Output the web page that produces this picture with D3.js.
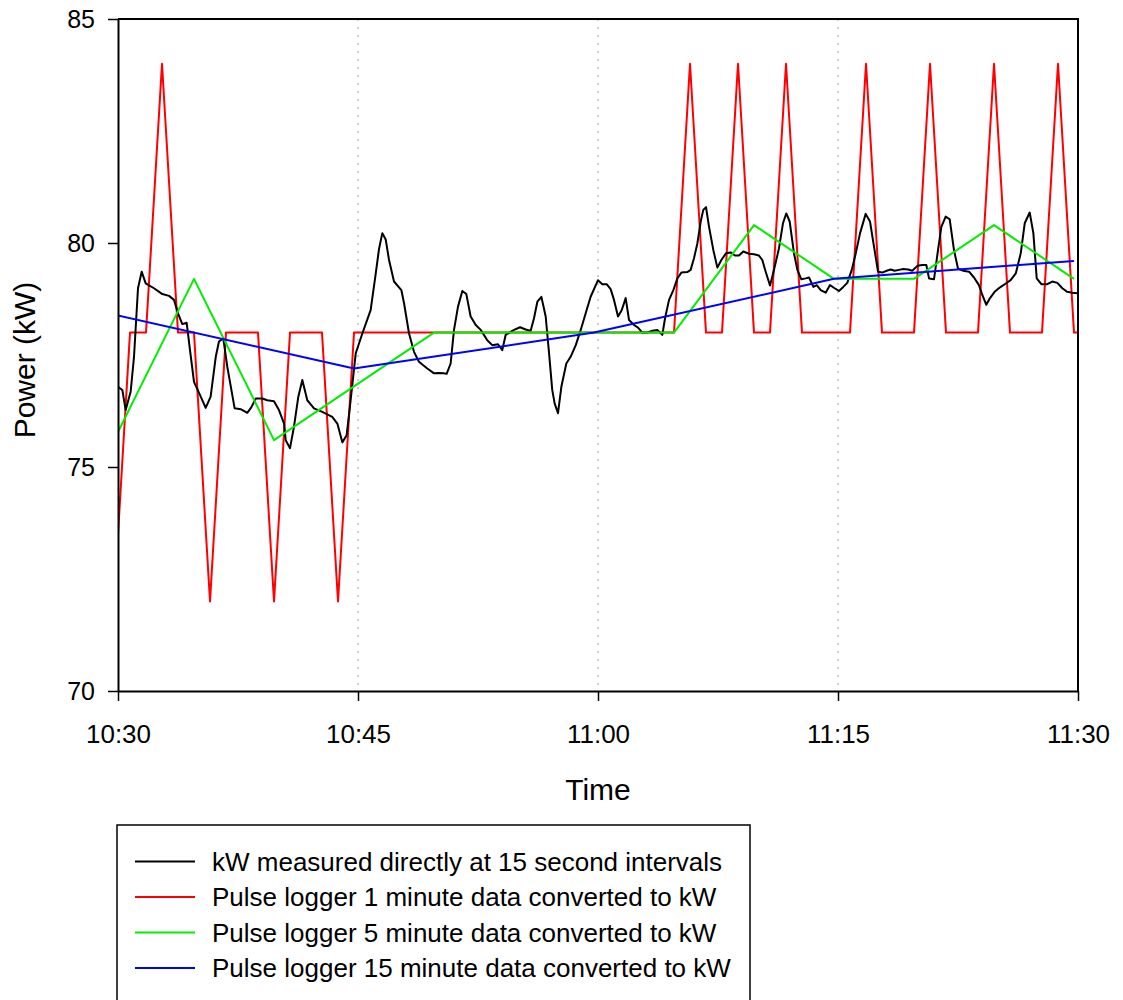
<!DOCTYPE html>
<html>
<head>
<meta charset="utf-8">
<script src="https://cdn.jsdelivr.net/npm/d3@7"></script>
<style>
  html, body { margin: 0; padding: 0; background: #fff; }
  svg { display: block; font-family: Arial, "Liberation Sans", sans-serif; }
</style>
</head>
<body>
<svg id="chart" width="1123" height="1000"></svg>
<script>
// ---- Data (minutes after 10:30) ----
const yTicks = [70, 75, 80, 85];
const xTickLabels = ["10:30", "10:45", "11:00", "11:15", "11:30"];
const xTickMinutes = [0, 15, 30, 45, 60];
const gridMinutes = [15, 30, 45];

const seriesNames = [
  "kW measured directly at 15 second intervals",
  "Pulse logger 1 minute data converted to kW",
  "Pulse logger 5 minute data converted to kW",
  "Pulse logger 15 minute data converted to kW"
];
const seriesColors = ["#000000", "#ff0000", "#00ee00", "#0000ff"];

// kW measured directly
const blackTimes = [0.00,0.27,0.48,0.79,1.00,1.25,1.48,1.73,2.25,2.77,3.19,3.50,3.75,4.02,4.29,4.50,4.75,5.17,5.48,5.79,
  6.11,6.31,6.58,6.83,7.29,7.67,8.08,8.33,8.61,9.02,9.33,9.75,10.06,10.38,10.48,10.75,11.00,11.27,11.52,11.83,
  12.25,12.77,13.39,13.71,14.02,14.29,14.54,14.86,15.27,15.79,16.11,16.31,16.52,16.73,16.94,17.25,17.71,17.88,18.19,18.50,
  18.81,19.33,19.75,20.06,20.38,20.54,20.79,21.00,21.25,21.52,21.77,22.04,22.36,22.67,23.08,23.39,23.75,24.02,24.23,24.75,
  25.13,25.48,25.79,26.00,26.21,26.46,26.73,26.94,27.14,27.29,27.50,27.71,28.02,28.29,28.61,28.92,29.23,29.54,30.00,30.27,
  30.54,30.79,31.00,31.25,31.48,31.73,31.94,32.25,32.50,32.77,33.08,33.39,33.71,34.02,34.19,34.44,34.71,34.96,35.21,35.58,
  35.79,36.00,36.21,36.42,36.58,36.75,36.94,37.21,37.46,37.71,38.00,38.29,38.56,38.81,39.08,39.44,39.75,40.06,40.27,40.48,
  40.75,41.00,41.31,41.56,41.77,41.98,42.25,42.46,42.71,42.98,43.19,43.46,43.67,43.92,44.23,44.50,44.79,45.06,45.33,45.58,
  45.86,46.11,46.38,46.73,47.00,47.25,47.50,47.77,48.04,48.29,48.54,48.81,49.08,49.38,49.64,49.96,50.27,50.52,50.69,51.00,
  51.25,51.46,51.73,51.98,52.25,52.50,52.83,53.19,53.50,53.81,54.02,54.27,54.50,54.79,55.13,55.42,55.79,56.11,56.42,56.67,
  56.98,57.21,57.42,57.71,58.08,58.39,58.71,59.02,59.33,59.64,59.96,60.00];
const blackValues = [76.79,76.72,76.27,76.68,77.46,78.99,79.36,79.10,78.99,78.86,78.82,78.73,78.43,78.19,78.22,77.61,76.90,76.57,76.32,76.57,
  77.46,77.80,77.87,77.24,76.31,76.29,76.21,76.33,76.53,76.53,76.49,76.47,76.27,75.97,75.60,75.42,75.90,76.57,76.94,76.49,
  76.31,76.23,76.12,75.97,75.55,75.71,76.49,77.54,77.98,78.50,79.32,79.86,80.22,80.08,79.62,79.14,78.95,78.65,77.98,77.57,
  77.35,77.20,77.09,77.10,77.09,77.08,77.31,78.06,78.58,78.93,78.86,78.36,78.17,78.06,77.83,77.72,77.74,77.61,77.95,78.06,
  78.12,78.07,78.04,78.32,78.69,78.80,78.36,77.54,76.72,76.42,76.20,76.79,77.31,77.46,77.72,78.06,78.43,78.80,79.17,79.08,
  79.08,78.97,78.73,78.36,78.50,78.77,78.28,78.17,78.11,78.00,78.00,78.04,78.06,77.95,78.32,78.73,78.95,79.21,79.34,79.35,
  79.40,79.66,79.99,80.48,80.74,80.80,80.36,79.84,79.45,79.62,79.77,79.79,79.72,79.72,79.81,79.76,79.75,79.72,79.62,79.36,
  79.05,79.40,79.88,80.44,80.66,80.48,79.77,79.40,79.19,79.21,79.23,79.02,79.06,78.95,78.89,79.06,78.99,78.93,79.02,79.11,
  79.40,79.77,80.22,80.65,80.48,79.92,79.36,79.34,79.38,79.41,79.38,79.40,79.42,79.41,79.38,79.49,79.51,79.51,79.21,79.19,
  79.84,80.36,80.59,80.53,79.84,79.43,79.38,79.36,79.23,79.06,78.84,78.62,78.77,78.91,79.01,79.08,79.17,79.32,79.77,80.44,
  80.68,80.22,79.21,79.08,79.08,79.14,79.11,78.99,78.91,78.89,78.88,78.88];

// Pulse logger 1-minute data: timestamps at -0.25, 0.75, 1.75 ... minutes
const redStart = -0.25, redStep = 1;
const redValues = [72,78,78,84,78,78,72,78,78,78,72,78,78,78,72,
  78,78,78,78,78,78,78,78,78,78,78,78,78,78,78,78,78,78,78,78,78,
  84,78,78,84,78,78,84,78,78,78,78,84,78,78,78,84,78,78,78,84,78,78,78,84,78,78];

// Pulse logger 5-minute data
const greenStart = -0.25, greenStep = 5;
const greenValues = [75.6,79.2,75.6,76.8,78.0,78.0,78.0,78.0,80.4,79.2,79.2,80.4,79.2];

// Pulse logger 15-minute data
const blueStart = -0.25, blueStep = 15;
const blueValues = [78.4,77.2,78.0,79.2,79.6];

// ---- Layout ----
const svg = d3.select("#chart");
const L = 118, T = 19, W = 960, H = 672;
const base = new Date(2000, 0, 1, 10, 30, 0);
const toDate = m => new Date(base.getTime() + m * 60000);

const x = d3.scaleTime().domain([toDate(0), toDate(60)]).range([L, L + W]);
const y = d3.scaleLinear().domain([70, 85]).range([T + H, T]);

svg.append("defs").append("clipPath").attr("id", "plotclip")
  .append("rect").attr("x", L).attr("y", T).attr("width", W).attr("height", H);

// dotted vertical gridlines
svg.append("g").selectAll("line").data(gridMinutes).join("line")
  .attr("x1", d => x(toDate(d))).attr("x2", d => x(toDate(d)))
  .attr("y1", T).attr("y2", T + H)
  .attr("stroke", "#b0b0b0").attr("stroke-width", 1.2)
  .attr("stroke-dasharray", "2,6");

const line = d3.line().x(d => x(toDate(d[0]))).y(d => y(d[1]));
const regular = (start, step, vals) => vals.map((v, i) => [start + i * step, v]);

const seriesData = [
  blackTimes.map((t, i) => [t, blackValues[i]]),
  regular(redStart, redStep, redValues),
  regular(greenStart, greenStep, greenValues),
  regular(blueStart, blueStep, blueValues)
];

const plot = svg.append("g").attr("clip-path", "url(#plotclip)");
[1, 0, 2, 3].forEach(i => {
  plot.append("path").datum(seriesData[i])
    .attr("fill", "none").attr("stroke", seriesColors[i])
    .attr("stroke-width", 2).attr("stroke-linejoin", "round")
    .attr("d", line);
});

// frame (top and right)
svg.append("path")
  .attr("d", `M${L},${T}H${L + W}V${T + H}`)
  .attr("fill", "none").attr("stroke", "#000").attr("stroke-width", 2);

// axes
const yAxis = svg.append("g").attr("transform", `translate(${L},0)`)
  .call(d3.axisLeft(y).tickValues(yTicks).tickSize(10).tickSizeOuter(0).tickPadding(13).tickFormat(d3.format("d")));
const xAxis = svg.append("g").attr("transform", `translate(0,${T + H})`)
  .call(d3.axisBottom(x).tickValues(xTickMinutes.map(toDate)).tickSize(10).tickSizeOuter(0).tickPadding(24)
    .tickFormat((d, i) => xTickLabels[i]));
[yAxis, xAxis].forEach(g => {
  g.select(".domain").attr("stroke", "#000").attr("stroke-width", 2);
  g.selectAll(".tick line").attr("stroke", "#000").attr("stroke-width", 1.5);
  g.selectAll(".tick text").attr("fill", "#000")
    .style("font-family", "Arial, 'Liberation Sans', sans-serif");
});
yAxis.selectAll(".tick text").style("font-size", "25px");
xAxis.selectAll(".tick text").style("font-size", "26px");

// axis titles
svg.append("text").attr("x", L + W / 2).attr("y", 800).attr("text-anchor", "middle")
  .style("font-size", "30px").text("Time");
svg.append("text").attr("transform", "translate(35,360) rotate(-90)").attr("text-anchor", "middle")
  .style("font-size", "30px").text("Power (kW)");

// legend
const lg = svg.append("g");
lg.append("rect").attr("x", 117).attr("y", 825).attr("width", 633).attr("height", 190)
  .attr("fill", "none").attr("stroke", "#000").attr("stroke-width", 1.5);
const rowY = [861.5, 897, 932.5, 968];
seriesNames.forEach((name, i) => {
  lg.append("line").attr("x1", 135).attr("x2", 195).attr("y1", rowY[i]).attr("y2", rowY[i])
    .attr("stroke", seriesColors[i]).attr("stroke-width", 2);
  lg.append("text").attr("x", 212).attr("y", rowY[i]).attr("dy", "0.36em")
    .style("font-size", "26px").text(name);
});
</script>
</body>
</html>
